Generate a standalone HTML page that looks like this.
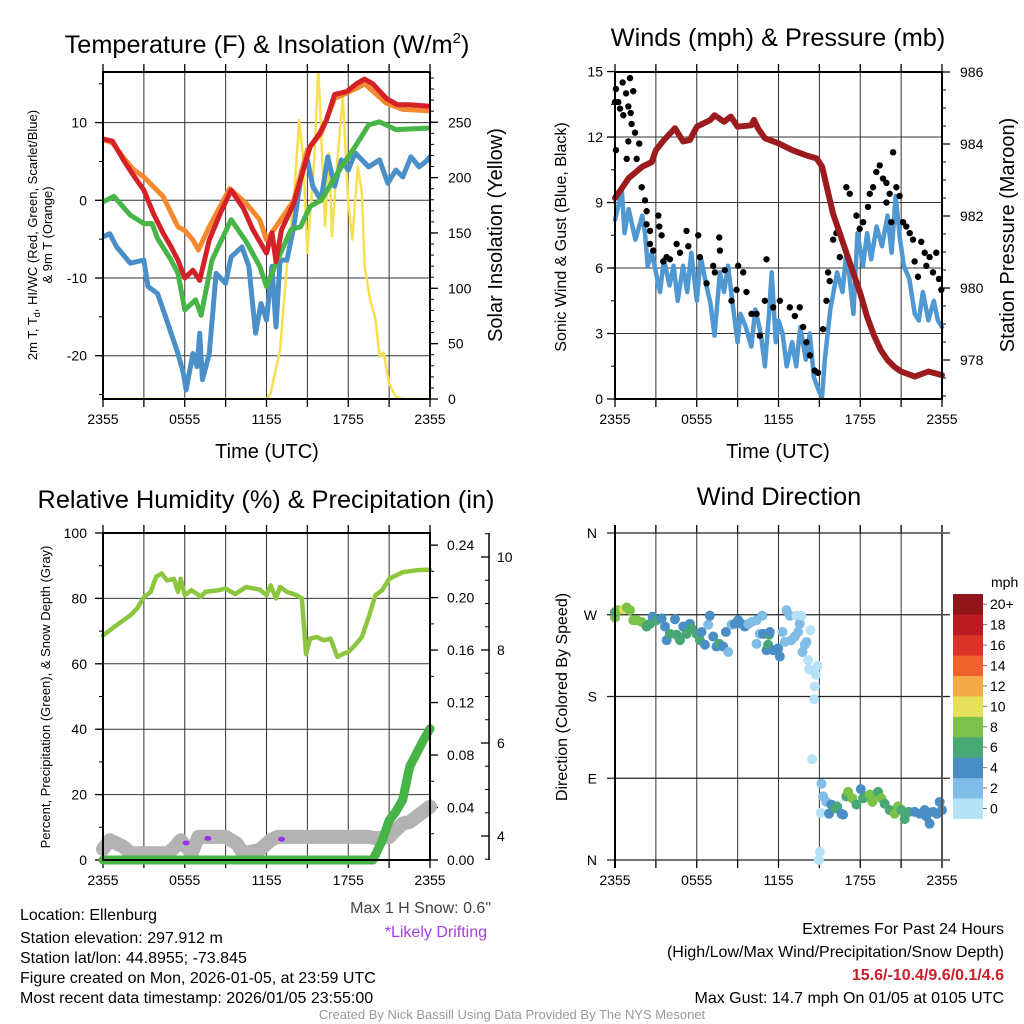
<!DOCTYPE html>
<html><head><meta charset="utf-8">
<style>
html,body{margin:0;padding:0;background:#fff;}
svg{display:block;font-family:"Liberation Sans",Arial,sans-serif;}
</style></head>
<body>
<svg id="fig" width="1024" height="1024" viewBox="0 0 1024 1024" xmlns="http://www.w3.org/2000/svg">
<rect width="1024" height="1024" fill="#fff"/>
<text x="267" y="53" font-size="25.3" text-anchor="middle">Temperature (F) &amp; Insolation (W/m<tspan font-size="15" dy="-10">2</tspan><tspan dy="10">)</tspan></text>
<text x="778" y="46" font-size="25.3" text-anchor="middle">Winds (mph) &amp; Pressure (mb)</text>
<text x="266" y="508" font-size="25.3" text-anchor="middle">Relative Humidity (%) &amp; Precipitation (in)</text>
<text x="779" y="505" font-size="25.3" text-anchor="middle">Wind Direction</text>

<text transform="translate(37,235) rotate(-90)" font-size="13" text-anchor="middle">2m T, T<tspan font-size="9" dy="3">d</tspan><tspan dy="-3">, HI/WC (Red, Green, Scarlet/Blue)</tspan></text>
<text transform="translate(52,235) rotate(-90)" font-size="13" text-anchor="middle">&amp; 9m T (Orange)</text>
<text transform="translate(502,235) rotate(-90)" font-size="20" text-anchor="middle">Solar Insolation (Yellow)</text>
<text x="267" y="458" font-size="20" text-anchor="middle">Time (UTC)</text>
<text transform="translate(566,237) rotate(-90)" font-size="16" text-anchor="middle">Sonic Wind &amp; Gust (Blue, Black)</text>
<text transform="translate(1014,235) rotate(-90)" font-size="20" text-anchor="middle">Station Pressure (Maroon)</text>
<text x="778" y="458" font-size="20" text-anchor="middle">Time (UTC)</text>
<text transform="translate(50,697) rotate(-90)" font-size="13" text-anchor="middle">Percent, Precipitation (Green), &amp; Snow Depth (Gray)</text>
<text transform="translate(567,697) rotate(-90)" font-size="16" text-anchor="middle">Direction (Colored By Speed)</text>

<g font-size="16">
<text x="20" y="920">Location: Ellenburg</text>
<text x="20" y="943">Station elevation: 297.912 m</text>
<text x="20" y="963">Station lat/lon: 44.8955; -73.845</text>
<text x="20" y="983">Figure created on Mon, 2026-01-05, at 23:59 UTC</text>
<text x="20" y="1003">Most recent data timestamp: 2026/01/05 23:55:00</text>
</g>
<text x="491" y="913" font-size="16" fill="#444" text-anchor="end">Max 1 H Snow: 0.6"</text>
<text x="487" y="937" font-size="16" fill="#a33ee0" text-anchor="end">*Likely Drifting</text>
<g font-size="16" text-anchor="end">
<text x="1004" y="934">Extremes For Past 24 Hours</text>
<text x="1004" y="957">(High/Low/Max Wind/Precipitation/Snow Depth)</text>
<text x="1004" y="980" fill="#c8202a" font-weight="bold">15.6/-10.4/9.6/0.1/4.6</text>
<text x="1004" y="1003">Max Gust: 14.7 mph On 01/05 at 0105 UTC</text>
</g>
<text x="512" y="1019" font-size="13" fill="#999" text-anchor="middle">Created By Nick Bassill Using Data Provided By The NYS Mesonet</text>
</svg>
<script>
// ---------- Panel 1 data ----------
const tempHours = [0,0.7,1.5,2.2,3,3.7,4.4,5,5.5,6,6.6,7.1,7.8,8.6,9.4,10.3,11,12,12.4,12.7,13.1,14,14.7,15.2,15.9,16.4,17,17.9,18.6,19.2,19.8,20.8,21.6,22.5,24];
const tempValues = [7.9,7.6,5.2,3.3,1.3,-1.7,-4.2,-6,-7.7,-10,-9,-10.3,-5.1,-1.7,1.3,-1,-3.8,-6.8,-4.2,-7.9,-3.8,-0.4,3.9,6.9,8.6,10.3,13.6,14,15,15.6,15,13.1,12.3,12.3,12.1];
const t9Hours = [0,0.7,1.5,2.2,3,4.4,5.5,6,6.6,7,7.8,9.3,10.5,11.5,12,12.7,14,15,16,17,18.6,19.2,20.8,22,24];
const t9Values = [7.8,7.4,5.5,4,3,0.5,-3.4,-3.9,-5.1,-6.4,-3.4,1.5,-0.4,-2.5,-5.1,-3.4,0,6.5,8.6,13.1,14.4,15,12.5,11.7,11.5];
const dewHours = [0,0.8,2,3,3.6,4,5,5.5,6,6.8,7.2,8,9.4,10.5,11.5,12,12.8,13.8,14.5,15.2,16,17.5,18.5,19.5,20.3,21.5,24];
const dewValues = [-0.2,0.5,-1.9,-3,-3,-4.9,-7.7,-9.4,-14.1,-12.8,-14.8,-7.7,-2.5,-5.3,-8.5,-11.1,-7.7,-3.8,-3.4,-0.8,0,4.3,6.9,9.7,10.1,9.1,9.3];
const wcHours = [0,0.5,1,2,3,3.3,4,4.5,5,5.5,5.9,6.1,6.6,6.9,7.1,7.3,7.8,8.3,9,9.4,10.2,10.7,11.2,11.6,12,12.4,12.7,13,13.5,14,14.6,15,15.4,16,16.5,17,17.5,18,18.5,19.5,20.3,20.9,21.5,22,22.6,23.2,23.7,24];
const wcValues = [-4.7,-4.3,-6,-8.1,-7.7,-11.1,-12,-14.5,-17.1,-19.7,-22.3,-24.4,-19.7,-21.4,-17.1,-23.1,-19.7,-9.4,-10.7,-7.3,-6,-8.5,-17.1,-13.3,-15.4,-8.5,-16.3,-7.7,-7.7,-3.4,3.9,5.2,1.8,0,5.6,1.8,5.2,3.9,6.1,4.3,5.2,2.2,3.9,3,5.6,4.3,5,5.6];
const solarHours = [0,12,12.3,13,13.5,14,14.4,14.7,15,15.5,15.8,16.3,16.6,16.8,17.2,17.6,18,18.3,18.7,19,19.2,19.6,20,20.3,20.6,21,21.5,22,24];
const solarValues = [0,0,5,45,120,180,252,216,132,216,300,156,222,147,216,273,177,144,210,186,120,90,72,38,42,14,2,0,0];
const tempTicks = [-20,-10,0,10];
const solarTicks = [0,50,100,150,200,250];
const timeLabels = ["2355","0555","1155","1755","2355"];
// ---------- Panel 2 data ----------
const presHours = [0,0.5,1,2,2.7,3,3.6,4.4,5,5.5,6,7,7.3,8,8.5,9,10,10.2,10.5,11,12,13,14,14.8,15.2,15.6,16,16.5,17,17.5,18,18.5,19,19.5,20,20.5,21,22,23,24];
const presValues = [982.5,982.77,983.05,983.37,983.5,983.83,984.11,984.44,984.07,984.11,984.48,984.67,984.8,984.62,984.76,984.48,984.52,984.67,984.43,984.16,984.02,983.83,983.69,983.6,983.37,982.72,982.07,981.52,980.96,980.41,979.85,979.2,978.69,978.28,978,977.81,977.68,977.54,977.68,977.58];
const windHours = [0,0.3,0.5,0.7,1,1.5,2,2.2,2.4,2.7,3,3.3,3.6,4,4.3,4.6,5,5.3,5.6,6,6.3,6.7,7,7.3,7.7,8,8.3,8.6,9,9.2,9.6,10,10.3,10.7,11,11.3,11.5,11.8,12,12.3,12.6,13,13.3,13.6,14,14.3,14.6,15,15.2,15.4,15.8,16.3,16.7,17,17.5,17.8,18.2,18.5,18.8,19.2,19.6,20,20.3,20.6,20.9,21.2,21.6,22,22.3,22.6,23,23.4,23.7,24];
const windValues = [8.2,9,9.6,7.6,8.7,7.3,8.4,7.6,6.1,6.7,5.8,4.9,6.4,5.2,6.1,4.5,6.1,4.9,6.7,4.5,6.5,5.2,4.4,2.9,5.8,4.9,6.1,4.5,2.6,3.9,3.3,2.4,4.1,3,1.5,3.9,5.8,2.6,3.6,3,1.5,2.6,1.5,3.3,1.8,3,1,0.3,0.1,1.8,4.1,5.8,4.9,6.8,3.9,7.6,6.1,7.6,6.4,7.9,7,8.4,6.7,9.3,7.4,6.1,5.5,3.9,3.6,4.9,3.6,4.5,3.6,3.3];
const gustHours = [0,0.07,0.24,0.37,0.56,0.61,0.81,0.98,1.1,1.22,1.34,1.15,0.07,0.86,0.98,1.47,1.59,1.78,1.96,2.2,2.32,2.32,2.57,2.81,3.18,3.25,3.42,2.57,3.54,3.79,4.03,4.52,4.77,5.25,5.38,6.11,6.23,6.72,7.21,7.33,7.65,7.7,8.06,8.55,8.92,9.04,9.41,9.65,10.02,10.39,10.63,11.12,11.0,11.61,12.1,12.83,13.2,13.56,13.81,14.05,14.3,14.66,14.9,15.27,15.52,15.64,15.76,16.01,16.25,16.5,16.98,17.23,17.72,17.96,18.21,18.57,18.7,18.94,19.18,19.43,19.67,19.92,20.16,20.41,20.65,20.89,21.14,21.38,21.63,21.87,21.99,22.24,22.48,22.73,22.85,23.09,23.34,23.58,23.78,23.95,19.92,20.28];
const gustValues = [13.6,14.2,13.6,13.3,14.5,13,14,13.4,14.7,12.6,14.1,13.1,11.4,11,11.8,12.2,11,11.7,9.7,9.1,8.6,8,7.1,6.8,8.4,7.9,7.5,7.7,6.3,6.5,6.4,7.1,6.7,7.7,7,7.5,6.5,5.3,6.1,5.8,7.4,6.8,5.9,4.5,5,6.1,5.8,4.9,3.9,3.9,2.9,6.4,4.5,4.2,4.5,4.2,3.8,4.2,3.3,2.6,2,1.3,1.2,3.2,4.5,5.8,5.4,7.3,7.6,6.5,9.7,9.4,8.4,7.8,8.1,8.8,9.4,9.7,10.4,10.7,10.1,9.9,9.4,11.3,9.7,9.3,8.1,7.9,7.6,7.3,6.3,5.6,7.2,6.7,6.1,6.5,5.8,6.7,5.5,5,9,8.1];
const windTicks = [0,3,6,9,12,15];
const presTicks = [978,980,982,984,986];
// ---------- Panel 3 data ----------
const rhHours = [0,1,2,2.5,3,3.5,3.9,4.3,4.7,5.2,5.5,5.7,6,6.5,7.2,7.5,8.5,9,9.7,10.5,11.5,12,12.3,12.7,13,13.5,14.2,14.6,14.9,15.2,15.7,16.2,16.7,17.2,17.6,18,18.5,19,19.5,20,20.5,21,21.5,22,23,24];
const rhValues = [68.7,71.8,74.8,76.9,80.4,82,86.6,87.6,85.5,86,82,86,81,82.5,80.5,82,82.5,83,81.3,83.5,82.7,81,84,80,83.5,82,81,80,63,67.7,68.2,67.2,67.7,62.1,63,63.6,65.7,68.2,74.3,81,82.5,86,87,88,88.6,88.8];
const precipHours = [0,19.8,20,20.5,21,21.5,22,22.5,23,23.5,24];
const precipValues = [0,0,0.004,0.015,0.03,0.037,0.046,0.071,0.081,0.091,0.1];
const snowHours = [0,0.5,1.5,2,4.8,5.3,5.7,6,6.5,7,9,9.8,10.3,11.5,12.3,12.8,19.5,20,21,21.5,22,22.5,23,23.5,24];
const snowValues = [3.72,3.91,3.77,3.63,3.63,3.77,3.91,3.8,3.63,3.98,3.98,3.84,3.63,3.7,3.91,3.98,3.98,3.95,3.98,4.13,4.27,4.3,4.41,4.52,4.63];
const driftHours = [6.1,7.7,13.1];
const driftValues = [3.85,3.95,3.93];
const rhTicks = [0,20,40,60,80,100];
const precipTicks = [0,0.04,0.08,0.12,0.16,0.2,0.24];
const snowTicks = [4,6,8,10];
// ---------- Panel 4 data ----------
const dirHours = [0,0,0.24,0.66,0.86,1.1,1.34,1.59,1.96,2.32,2.57,2.76,3.05,3.42,3.67,3.79,4.03,4.4,4.52,4.77,5.01,5.25,5.5,5.62,5.99,6.23,6.35,6.6,6.84,6.96,7.21,7.45,7.65,7.94,8.14,8.31,8.55,8.8,9.04,9.29,9.53,9.78,10.02,10.39,10.8,10.63,10.39,10.87,11.12,11.24,11.31,11.36,11.61,11.97,12.1,12.29,12.46,12.59,12.83,12.95,13.2,13.32,13.44,13.56,13.69,13.76,13.93,14.05,14.35,14.17,14.25,14.66,14.74,14.88,14.61,14.47,15.03,14.96,15.15,15.1,15.27,15.52,15.71,15.88,16.13,16.3,16.62,16.74,16.98,17.11,17.42,17.72,18.04,18.21,18.45,18.7,18.89,19.09,19.31,19.55,19.79,20.16,20.53,20.77,21.02,21.26,21.58,21.99,22.36,22.73,22.85,23.09,23.34,23.63,23.83,24];
const dirValues = [267,273,275,276,278,275,264,264,262,257,260,268,264,266,257,242,249,265,248,242,257,249,260,255,249,242,251,237,259,269,246,235,238,235,251,229,259,260,264,260,257,260,262,264,269,249,238,249,231,237,248,251,231,233,224,251,240,275,269,242,246,269,251,260,269,229,237,240,253,220,210,191,204,214,177,111,9,0,84,52,70,64,51,61,57,59,51,50,70,75,68,61,78,68,70,72,64,72,75,68,62,55,51,59,55,45,53,53,51,55,48,40,53,51,64,55,53];
const dirSpeeds = [9,7,9,11,9,9,9,9,9,7,7,5,7,5,5,5,7,5,7,7,5,7,5,7,7,7,5,5,3,5,5,5,7,5,5,3,3,5,5,5,5,3,3,3,3,3,3,5,5,7,7,5,5,5,5,3,3,3,3,3,3,1.5,3,3,1.5,3,3,3,1,1,1,1,1,1,1,1,1,1,3,1,3,3,5,5,7,7,5,5,7,9,9,7,5,7,7,9,9,9,7,9,7,7,9,9,7,7,7,5,5,5,5,5,5,5,5,5];
const dirTicks = ["N","E","S","W","N"];
const speedLabels = ["0","2","4","6","8","10","12","14","16","18","20+"];
const speedColors = ["#b5e2f7","#7fbce6","#4a8ec6","#48a774","#7bc24b","#e6e05a","#f6aa47","#ef612b","#db3329","#bb1c24","#901519"];

// ---------- drawing ----------
const NS="http://www.w3.org/2000/svg";
const svg=document.getElementById('fig');
function mk(tag,attrs,parent){const e=document.createElementNS(NS,tag);for(const k in attrs)e.setAttribute(k,attrs[k]);(parent||svg).appendChild(e);return e;}
function txt(s,attrs,parent){const e=mk('text',attrs,parent);e.textContent=s;return e;}

function panel(x0,x1,y0,y1,name){
  const g=mk('g',{});
  
  
  const xs=h=>x0+(x1-x0)*h/24;
  for(let i=0;i<=8;i++){const x=xs(i*3);
    mk('line',{x1:x,x2:x,y1:y0,y2:y1,stroke:'#333','stroke-width':1},g);
    mk('line',{x1:x,x2:x,y1:y1,y2:y1+8,stroke:'#000','stroke-width':1.3},g);
    mk('line',{x1:x,x2:x,y1:y0,y2:y0-8,stroke:'#000','stroke-width':1.3},g);}
  for(let i=0;i<timeLabels.length;i++){
    const t=txt(timeLabels[i],{x:xs(i*6),y:y1+25,'font-size':14,'text-anchor':'middle'},g);
    
    
  }
  return {g,xs};
}
function frame(x0,x1,y0,y1){mk('rect',{x:x0,y:y0,width:x1-x0,height:y1-y0,fill:'none',stroke:'#000','stroke-width':2});}
function yAxis(g,x,dir,ticks,ys,fmt,minorStep,lo,hi,labelOff,anchor,grid,gx1){
  for(const v of ticks){const y=ys(v);
    if(grid) mk('line',{x1:grid,x2:gx1,y1:y,y2:y,stroke:'#333','stroke-width':1},g);
    mk('line',{x1:x,x2:x+dir*8,y1:y,y2:y,stroke:'#000','stroke-width':1.3},g);
    const t=txt(fmt(v),{x:x+dir*labelOff,y:y+5,'font-size':14,'text-anchor':anchor},g);
    
    }
  if(minorStep){for(let v=lo;v<=hi+1e-9;v+=minorStep){const y=ys(v);mk('line',{x1:x,x2:x+dir*4,y1:y,y2:y,stroke:'#000','stroke-width':1},g);}}
}
function line(g,hs,vs,xs,ys,color,w,name){
  const d=hs.map((h,i)=>(i?'L':'M')+xs(h).toFixed(1)+','+ys(vs[i]).toFixed(1)).join('');
  const p=mk('path',{d,fill:'none',stroke:color,'stroke-width':w,'stroke-linejoin':'round','stroke-linecap':'round'},g);
  
  
  return p;
}
function clip(id,x0,x1,y0,y1){const c=mk('clipPath',{id});mk('rect',{x:x0,y:y0,width:x1-x0,height:y1-y0},c);return 'url(#'+id+')';}

// Panel 1
(function(){
  const X0=103,X1=430,Y0=72,Y1=399;
  const {g,xs}=panel(X0,X1,Y0,Y1,'temperature-panel');
  const ys=v=>200.3-7.77*v;
  const ss=v=>399-1.107*v;
  yAxis(g,X0,-1,tempTicks,ys,v=>String(v),5,-25,15,16,'end',X0,X1);
  yAxis(g,X1,1,solarTicks,ss,v=>String(v),10,0,290,18,'start');
  const d=mk('g',{'clip-path':clip('c1',X0,X1,Y0,Y1)});
  line(d,solarHours,solarValues,xs,ss,'#f7e050',2.5,'solar-line');
  line(d,wcHours,wcValues,xs,ys,'#4a8fc8',5,'wind-chill-line');
  line(d,dewHours,dewValues,xs,ys,'#47b547',5,'dewpoint-line');
  line(d,t9Hours,t9Values,xs,ys,'#f4892f',5,'temp-9m-line');
  line(d,tempHours,tempValues,xs,ys,'#d42027',5,'temp-2m-line');
  frame(X0,X1,Y0,Y1);
})();
// Panel 2
(function(){
  const X0=615,X1=942,Y0=72,Y1=399;
  const {g,xs}=panel(X0,X1,Y0,Y1,'winds-panel');
  const ys=v=>399-21.83*v;
  const ps=p=>72+(986-p)*36;
  yAxis(g,X0,-1,windTicks,ys,v=>String(v),1.5,0,15,12,'end',X0,X1);
  yAxis(g,X1,1,presTicks,ps,v=>String(v),0.5,977,986,18,'start');
  const d=mk('g',{'clip-path':clip('c2',X0-4,X1+4,Y0-4,Y1+4)});
  line(d,windHours,windValues,xs,ys,'#4f98d2',4.5,'sonic-wind-line');
  gustHours.forEach((h,i)=>{const c=mk('circle',{cx:xs(h),cy:ys(gustValues[i]),r:3.2,fill:'#000'},d);
    
    });
  line(d,presHours,presValues,xs,ps,'#9b1b1e',6,'pressure-line');
  frame(X0,X1,Y0,Y1);
})();
// Panel 3
(function(){
  const X0=103,X1=430,Y0=533,Y1=860;
  const {g,xs}=panel(X0,X1,Y0,Y1,'humidity-panel');
  const ys=v=>860-3.27*v;
  const pr=v=>860-1312*v;
  const sn=v=>836-46.5*(v-4);
  yAxis(g,X0,-1,rhTicks,ys,v=>String(v),10,0,100,16,'end',X0,X1);
  yAxis(g,X1,1,precipTicks,pr,v=>v.toFixed(2),0.02,0,0.24,17,'start');
  mk('line',{x1:489,x2:489,y1:533,y2:860,stroke:'#000','stroke-width':1.5},g);
  yAxis(g,489,-1,snowTicks,sn,v=>String(v),0.5,3.5,10.5,-8,'start');
  const d=mk('g',{'clip-path':clip('c3',X0-12,X1+12,Y0,Y1+10)});
  line(d,snowHours,snowValues,xs,sn,'#b3b3b3',14,'snow-depth-line');
  driftHours.forEach((h,i)=>{const c=mk('ellipse',{cx:xs(h),cy:sn(driftValues[i]),rx:3.5,ry:2.5,fill:'#9b30e8'},d);
    
    });
  line(d,rhHours,rhValues,xs,ys,'#8cc63f',4.5,'humidity-line');
  line(d,precipHours,precipValues,xs,pr,'#46b446',9,'precip-line');
  frame(X0,X1,Y0,Y1);
})();
// Panel 4
(function(){
  const X0=615,X1=942,Y0=533,Y1=860;
  const {g,xs}=panel(X0,X1,Y0,Y1,'direction-panel');
  const ds=v=>860-v*(327/360);
  for(let i=0;i<dirTicks.length;i++){const y=ds(i*90);
    mk('line',{x1:X0-8,x2:X1+8,y1:y,y2:y,stroke:'#222','stroke-width':1.2},g);
    const t=txt(dirTicks[i],{x:597,y:y+5,'font-size':14,'text-anchor':'end'},g);
    
    }
  dirHours.forEach((h,i)=>{const idx=Math.min(10,Math.floor(dirSpeeds[i]/2));
    const c=mk('circle',{cx:xs(h),cy:ds(dirValues[i]),r:5,fill:speedColors[idx]},g);
    
    });
  mk('line',{x1:X0,x2:X0,y1:Y0-8,y2:Y1+8,stroke:'#000','stroke-width':2},g);
  mk('line',{x1:X1,x2:X1,y1:Y0-8,y2:Y1+8,stroke:'#555','stroke-width':2},g);
  const cb=mk('g',{});
  
  
  const bh=224.7/11;
  for(let i=0;i<11;i++){const y=818.7-(i+1)*bh;
    mk('rect',{x:953,y:y,width:30,height:bh+0.3,fill:speedColors[i]},cb);
    mk('line',{x1:983,x2:987,y1:y+bh/2,y2:y+bh/2,stroke:'#777'},cb);
    const t=txt(speedLabels[i],{x:990,y:y+bh/2+5,'font-size':14},cb);
    
    }
  const u=txt('mph',{x:991,y:587,'font-size':14},cb);
  
  
})();
</script>
</body></html>
